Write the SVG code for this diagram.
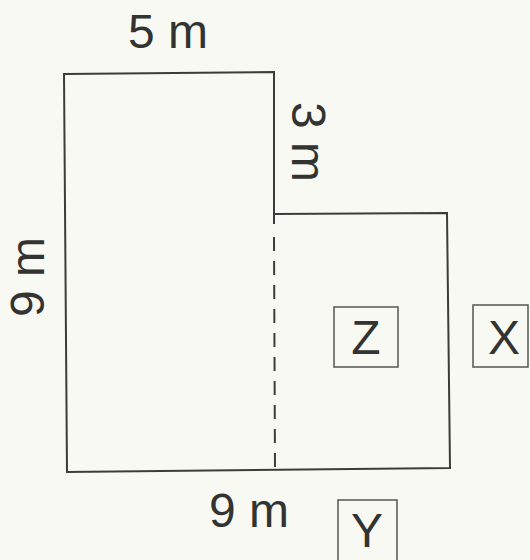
<svg xmlns="http://www.w3.org/2000/svg" width="530" height="560" viewBox="0 0 530 560">
<style>
.ln{fill:none;stroke:#3c3c3a;stroke-width:2;stroke-linejoin:miter}
.bx{fill:none;stroke:#555552;stroke-width:1.5}
.dash{fill:none;stroke:#3c3c3a;stroke-width:2;stroke-dasharray:14 10}
.t{font-family:"Liberation Sans",Arial,sans-serif;font-size:48px;fill:#333331;text-anchor:middle}
</style>
<rect width="530" height="560" fill="#f9f9f3"/>
<g id="shape">
<polygon class="ln" points="64,74 274,72 274,214 447,213 450,468 67,472"/>
</g>
<g id="connectors">
<line class="ln" x1="274" y1="214" x2="274" y2="224"/>
<line class="dash" x1="274" y1="237" x2="275" y2="470"/>
</g>
<g id="label-5m"><text class="t" x="168" y="48">5 m</text></g>
<g id="label-3m"><text class="t" transform="translate(309,142) rotate(90)" x="0" y="17">3 m</text></g>
<g id="label-9m-left"><text class="t" transform="translate(27,277) rotate(-90)" x="0" y="17">9 m</text></g>
<g id="label-9m-bottom"><text class="t" x="249" y="527">9 m</text></g>
<g id="node-Z"><rect class="bx" x="334" y="307" width="64" height="60"/><text class="t" x="366" y="354">Z</text></g>
<g id="node-X"><rect class="bx" x="473" y="305" width="55" height="62"/><text class="t" x="504" y="354">X</text></g>
<g id="node-Y"><rect class="bx" x="338" y="500" width="59" height="70"/><text class="t" x="367" y="547">Y</text></g>
</svg>
